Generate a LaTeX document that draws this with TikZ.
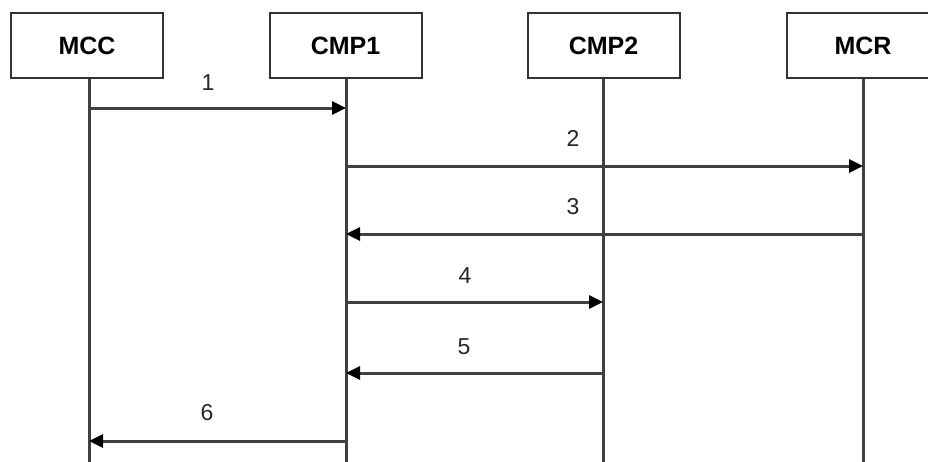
\documentclass[tikz,border=0pt]{standalone}
\usepackage{fontspec}
\setmainfont{Liberation Sans}
\usetikzlibrary{arrows.meta}
\begin{document}
\begin{tikzpicture}[x=1pt,y=-1pt,
  actor/.style={draw=black!80, line width=2pt, fill=white, minimum width=152pt,
    minimum height=65pt, inner sep=0pt, font=\fontsize{25}{30}\selectfont\bfseries},
  lifeline/.style={draw=black!75, line width=3pt},
  msg/.style={draw=black!75, line width=3pt,
    -{Triangle[length=14pt,width=13pt,color=black]}},
  num/.style={inner sep=0pt, font=\fontsize{23}{27}\selectfont, text=black!85}]
  \clip (0,0) rectangle (928,461);
  \fill[white] (0,0) rectangle (928,461);

  % participants
  \node[actor] (mcc)  at (87,45.5)  {MCC};
  \node[actor] (cmp1) at (345.5,45.5) {CMP1};
  \node[actor] (cmp2) at (603.5,45.5) {CMP2};
  \node[actor] (mcr)  at (863,45.5) {MCR};

  % lifeline ends
  \coordinate (mccE)  at (89,470);
  \coordinate (cmp1E) at (346,470);
  \coordinate (cmp2E) at (603,470);
  \coordinate (mcrE)  at (863,470);
  \draw[lifeline] (mcc.south -| mccE) -- (mccE);
  \draw[lifeline] (cmp1.south -| cmp1E) -- (cmp1E);
  \draw[lifeline] (cmp2.south -| cmp2E) -- (cmp2E);
  \draw[lifeline] (mcr.south -| mcrE) -- (mcrE);

  % message anchor points on the lifelines
  \coordinate (m1a) at (89,108);  \coordinate (m1b) at (346,108);
  \coordinate (m2a) at (346,166); \coordinate (m2b) at (863,166);
  \coordinate (m3a) at (863,234); \coordinate (m3b) at (346,234);
  \coordinate (m4a) at (346,302); \coordinate (m4b) at (603,302);
  \coordinate (m5a) at (603,373); \coordinate (m5b) at (346,373);
  \coordinate (m6a) at (346,441); \coordinate (m6b) at (89,441);

  % messages
  \draw[msg] (m1a) -- (m1b);
  \draw[msg] (m2a) -- (m2b);
  \draw[msg] (m3a) -- (m3b);
  \draw[msg] (m4a) -- (m4b);
  \draw[msg] (m5a) -- (m5b);
  \draw[msg] (m6a) -- (m6b);

  % message numbers
  \node[num] (n1) at (208,83)  {1};
  \node[num] (n2) at (573,138) {2};
  \node[num] (n3) at (573,207) {3};
  \node[num] (n4) at (465,276) {4};
  \node[num] (n5) at (464,347) {5};
  \node[num] (n6) at (207,413) {6};
\end{tikzpicture}
\end{document}
